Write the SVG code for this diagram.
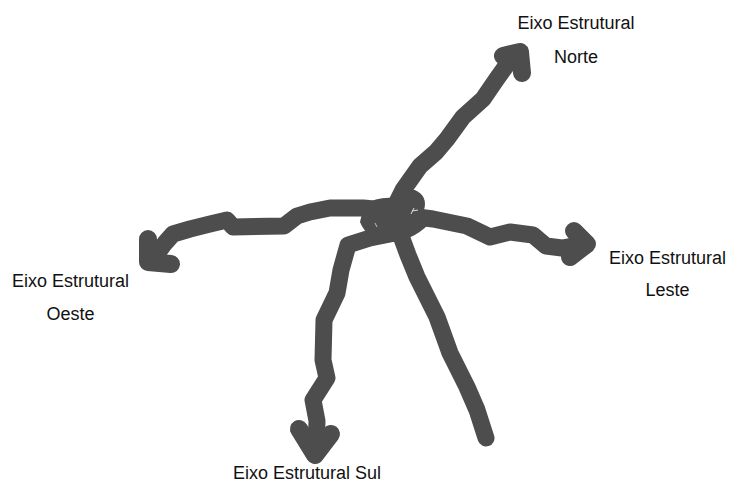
<svg xmlns="http://www.w3.org/2000/svg" width="729" height="484" viewBox="0 0 729 484">
  <style>
    .s { fill: none; stroke: #4d4d4d; stroke-width: 17; stroke-linecap: round; stroke-linejoin: round; }
    .h { fill: #4d4d4d; stroke: #4d4d4d; stroke-width: 18; stroke-linecap: round; stroke-linejoin: round; }
    .t { font-family: "Liberation Sans", Arial, sans-serif; font-size: 18px; fill: #111; text-anchor: middle; }
  </style>
  <rect width="729" height="484" fill="#ffffff"/>
  <g id="connectors">
    <!-- Norte -->
    <path class="s" d="M 392 212 L 403 190 L 420 166 L 436 152 L 447 139 L 463 117 L 483 99 L 496 80 L 511 59"/>
    <path class="h" d="M 503 56 L 520 52 L 522 73"/>
    <!-- Oeste -->
    <path class="s" d="M 385 210 L 363 208 L 330 208 L 310 212 L 297 216 L 284 226 L 233 227 L 227 220 L 210 224 L 190 229 L 173 234 L 165 243 L 153 259"/>
    <path class="h" d="M 148 239 L 148 262 L 171 264"/>
    <!-- Leste -->
    <path class="s" d="M 410 216 L 433 219 L 467 226 L 490 237 L 510 232 L 533 235 L 546 246 L 562 248 L 584 244"/>
    <path class="h" d="M 574 231 L 587 244 L 570 257"/>
    <!-- Sul -->
    <path class="s" d="M 400 232 L 370 238 L 348 245 L 341 270 L 337 293 L 324 320 L 323 360 L 327 378 L 313 400 L 317 421 L 316 452"/>
    <path class="h" d="M 299 429 L 315 455 L 331 434"/>
    <!-- linha sem seta -->
    <path class="s" d="M 398 228 L 408 255 L 417 277 L 437 317 L 450 353 L 467 387 L 477 410 L 486 438"/>
    <!-- centro -->
    <path fill="#4d4d4d" d="M 364 205 Q 380 195 400 199 Q 404 188 415 190 Q 428 196 424 210 L 429 224 Q 412 241 390 242 Q 367 240 360 222 Z"/>
    <path d="M 411 214 L 414 208 M 412 211 L 418 210" stroke="#dddddd" stroke-width="1" fill="none"/>
    <path d="M 375 223 L 377 227" stroke="#bbbbbb" stroke-width="1" fill="none"/>
  </g>
  <g id="norte">
    <text class="t" x="576" y="29">Eixo Estrutural</text>
    <text class="t" x="576" y="63">Norte</text>
  </g>
  <g id="leste">
    <text class="t" x="667.5" y="264">Eixo Estrutural</text>
    <text class="t" x="667.5" y="296">Leste</text>
  </g>
  <g id="oeste">
    <text class="t" x="70.5" y="287">Eixo Estrutural</text>
    <text class="t" x="70.5" y="320">Oeste</text>
  </g>
  <g id="sul">
    <text class="t" x="307" y="479">Eixo Estrutural Sul</text>
  </g>
</svg>
